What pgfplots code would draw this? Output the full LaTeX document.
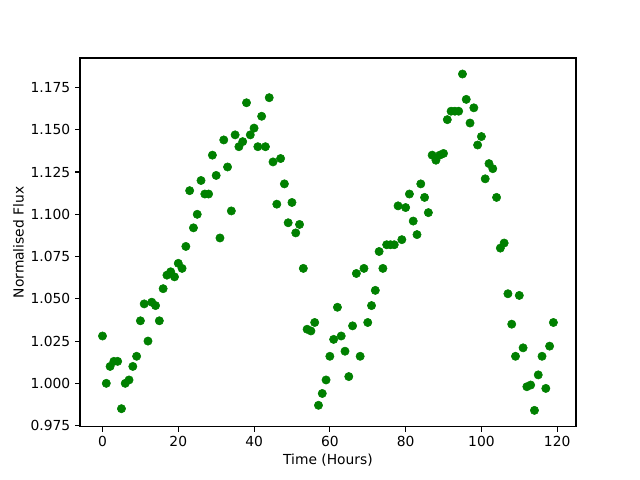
\documentclass[border=0pt]{standalone}
\usepackage{fontspec}
\setmainfont{DejaVu Sans}
\usepackage{pgfplots}
\pgfplotsset{compat=1.18}
\definecolor{mplgreen}{RGB}{0,128,0}
\begin{document}
\begin{tikzpicture}
\begin{axis}[
  scale only axis,
  width=358.5pt, height=266.7pt,
  xmin=-5.95, xmax=124.95,
  ymin=0.9742, ymax=1.1925,
  xtick={0,20,40,60,80,100,120},
  ytick={0.975,1.000,1.025,1.050,1.075,1.100,1.125,1.150,1.175},
  yticklabel style={/pgf/number format/.cd,fixed,fixed zerofill,precision=3},
  /pgf/number format/assume math mode=true,
  tick align=outside,
  tick pos=left,
  major tick length=3.5pt,
  axis line style={line width=0.8pt},
  every tick/.style={black, line width=0.8pt},
  tick label style={font=\fontsize{10}{12}\selectfont},
  label style={font=\fontsize{10}{12}\selectfont},
  xlabel={Time (Hours)},
  ylabel={Normalised Flux},
  xlabel style={yshift=2pt},
  ylabel style={yshift=-2pt},
  clip=false,
]
\addplot[only marks, mark=*, mark size=3pt, color=mplgreen, mark options={draw=mplgreen, fill=mplgreen}] coordinates {
(0,1.028)(1,1.000)(2,1.010)(3,1.013)(4,1.013)(5,0.985)(6,1.000)(7,1.002)(8,1.010)(9,1.016)
(10,1.037)(11,1.047)(12,1.025)(13,1.048)(14,1.046)(15,1.037)(16,1.056)(17,1.064)(18,1.066)(19,1.063)
(20,1.071)(21,1.068)(22,1.081)(23,1.114)(24,1.092)(25,1.100)(26,1.120)(27,1.112)(28,1.112)(29,1.135)
(30,1.123)(31,1.086)(32,1.144)(33,1.128)(34,1.102)(35,1.147)(36,1.140)(37,1.143)(38,1.166)(39,1.147)
(40,1.151)(41,1.140)(42,1.158)(43,1.140)(44,1.169)(45,1.131)(46,1.106)(47,1.133)(48,1.118)(49,1.095)
(50,1.107)(51,1.089)(52,1.094)(53,1.068)(54,1.032)(55,1.031)(56,1.036)(57,0.987)(58,0.994)(59,1.002)
(60,1.016)(61,1.026)(62,1.045)(63,1.028)(64,1.019)(65,1.004)(66,1.034)(67,1.065)(68,1.016)(69,1.068)
(70,1.036)(71,1.046)(72,1.055)(73,1.078)(74,1.068)(75,1.082)(76,1.082)(77,1.082)(78,1.105)(79,1.085)
(80,1.104)(81,1.112)(82,1.096)(83,1.088)(84,1.118)(85,1.110)(86,1.101)(87,1.135)(88,1.132)(89,1.135)
(90,1.136)(91,1.156)(92,1.161)(93,1.161)(94,1.161)(95,1.183)(96,1.168)(97,1.154)(98,1.163)(99,1.141)
(100,1.146)(101,1.121)(102,1.130)(103,1.127)(104,1.110)(105,1.080)(106,1.083)(107,1.053)(108,1.035)(109,1.016)
(110,1.052)(111,1.021)(112,0.998)(113,0.999)(114,0.984)(115,1.005)(116,1.016)(117,0.997)(118,1.022)(119,1.036)
};
\end{axis}
\pgfresetboundingbox
\path ([shift={(-57.8pt,-38.3pt)}]current axis.south west) rectangle ([shift={(46.3pt,41.9pt)}]current axis.north east);
\end{tikzpicture}
\end{document}
